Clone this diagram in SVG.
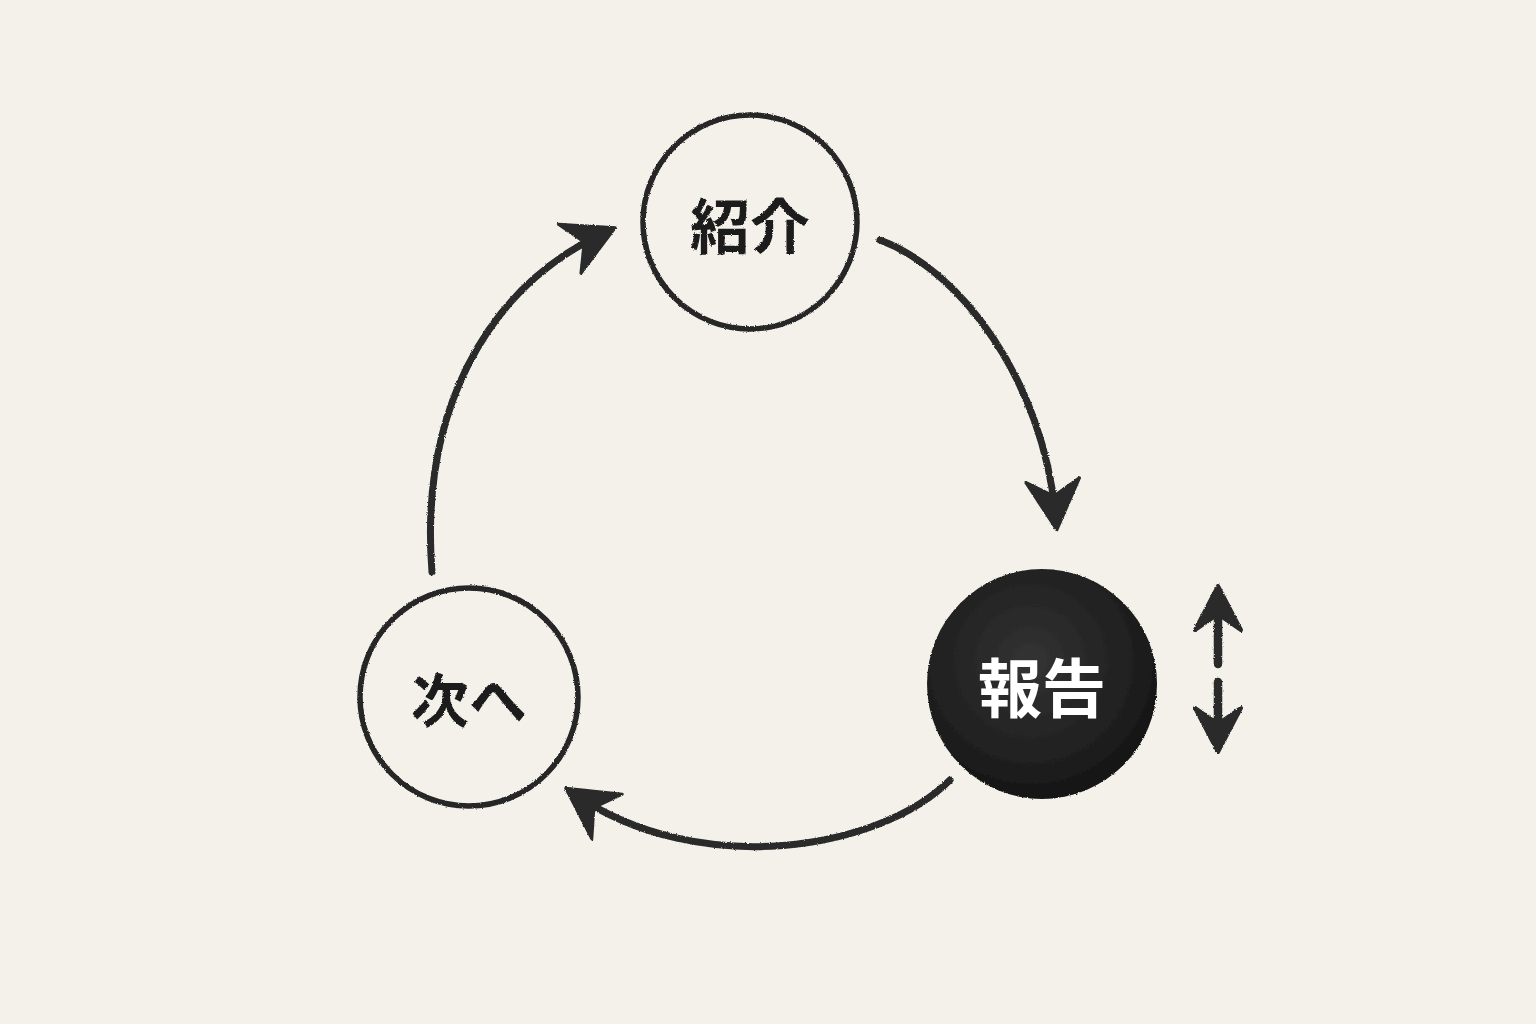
<svg xmlns="http://www.w3.org/2000/svg" width="1536" height="1024" viewBox="0 0 1536 1024">
  <style>
    .ring { fill: none; stroke: #262626; stroke-width: 5.5; }
    .conn { fill: none; stroke: #2a2a2a; stroke-width: 7; stroke-linecap: round; }
    .thick { stroke-width: 8.5; }
    .lbl { font-family: "Noto Sans CJK JP", "Noto Sans CJK SC", sans-serif; font-weight: 700; text-anchor: middle; dominant-baseline: central; }
  </style>
  <defs>
    <filter id="brush" filterUnits="userSpaceOnUse" x="0" y="0" width="1536" height="1024">
      <feTurbulence type="fractalNoise" baseFrequency="0.9" numOctaves="2" seed="3" result="n"/>
      <feDisplacementMap in="SourceGraphic" in2="n" scale="2.5" xChannelSelector="R" yChannelSelector="G"/>
    </filter>
    <radialGradient id="ink" cx="0.45" cy="0.4" r="0.6">
      <stop offset="0" stop-color="#333333"/>
      <stop offset="0.8" stop-color="#1e1e1e"/>
      <stop offset="1" stop-color="#141414"/>
    </radialGradient>
    <marker id="head" markerUnits="userSpaceOnUse" viewBox="-52 -30 56 60" markerWidth="56" markerHeight="60" refX="-10" refY="0" orient="auto">
      <path d="M0,0 L-50,-27 L-34,0 L-50,27 Z" fill="#2a2a2a" stroke="#2a2a2a" stroke-width="3" stroke-linejoin="round"/>
    </marker>
    <marker id="head2" markerUnits="userSpaceOnUse" viewBox="-46 -26 50 52" markerWidth="50" markerHeight="52" refX="-6" refY="0" orient="auto">
      <path d="M0,0 L-44,-23 L-28,0 L-44,23 Z" fill="#2a2a2a" stroke="#2a2a2a" stroke-width="4" stroke-linejoin="round"/>
    </marker>
  </defs>
  <rect width="1536" height="1024" fill="#f3f1ea"/>

  <g id="connectors" filter="url(#brush)">
    <path class="conn" d="M880,240 C960,270 1044,380 1056,520" marker-end="url(#head)"/>
    <path class="conn" d="M950,780 C880,850 700,880 574,794" marker-end="url(#head)"/>
    <path class="conn" d="M432,572 C420,420 480,290 606,232" marker-end="url(#head)"/>
  </g>

  <g id="node-shoukai" filter="url(#brush)">
    <circle class="ring" cx="750" cy="222" r="107"/>
    <text class="lbl" x="750" y="222" font-size="60" fill="#1e1e1e">紹介</text>
  </g>

  <g id="node-houkoku">
    <circle cx="1042" cy="684" r="115" fill="url(#ink)" filter="url(#brush)"/>
    <text class="lbl" x="1042" y="684" font-size="64" fill="#ffffff">報告</text>
  </g>

  <g id="node-tsugi" filter="url(#brush)">
    <circle class="ring" cx="469" cy="697" r="109"/>
    <text class="lbl" x="469" y="697" font-size="58" fill="#1e1e1e">次へ</text>
  </g>

  <g id="updown" filter="url(#brush)">
    <path class="conn thick" d="M1218,664 L1218,592" marker-end="url(#head2)"/>
    <path class="conn thick" d="M1218,682 L1218,746" marker-end="url(#head2)"/>
  </g>
</svg>
